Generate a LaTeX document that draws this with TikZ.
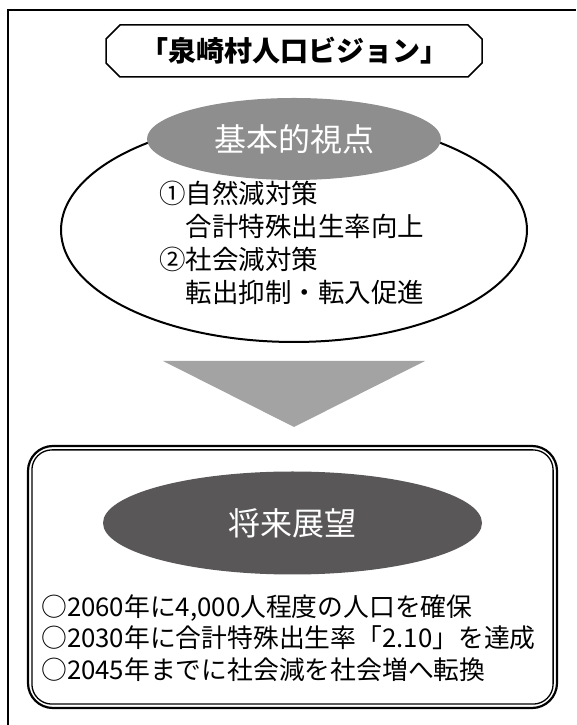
\documentclass[tikz,border=0pt]{standalone}
\usepackage{fontspec}
\newfontfamily\jp{Noto Sans CJK JP}
\usetikzlibrary{shapes.geometric,shapes.misc}
\definecolor{viewgray}{HTML}{8E8E8E}
\definecolor{arrowgray}{HTML}{A2A3A2}
\definecolor{outlookgray}{HTML}{595757}
\tikzset{
  oval/.style={ellipse, inner sep=0pt, text=white, font=\jp\fontsize{32}{32}\selectfont},
  body/.style={align=left, anchor=west, inner sep=0pt},
}

\begin{document}
\begin{tikzpicture}[x=1pt, y=1pt, font=\jp]
\useasboundingbox (0,0) rectangle (576,725);
\draw[line width=2] (8,0) |- (576,715);

% title
\node[chamfered rectangle, chamfered rectangle xsep=7pt, chamfered rectangle ysep=7pt, draw, line width=1.5, minimum width=376pt, minimum height=52pt, font=\jp\bfseries\fontsize{28}{28}\selectfont] (title) at (294,674) {「泉崎村人口ビジョン」};

% basic view
\node[ellipse, draw, line width=2, minimum width=466pt, minimum height=224pt] (view) at (294,495) {};
\node[oval, fill=viewgray, minimum width=294pt, minimum height=82pt] (basic) at (294,586) {基本的視点};
\node[body, font=\jp\fontsize{26.5}{33}\selectfont] (measures) at (159,482.5) {①自然減対策\\\hspace*{1em}合計特殊出生率向上\\②社会減対策\\\hspace*{1em}転出抑制・転入促進};

% arrow
\coordinate (tl) at (163,364);
\coordinate (tr) at (425,364);
\coordinate (tip) at (294,298);
\fill[arrowgray] (tl) -- (tr) -- (tip) -- cycle;

% future outlook
\node[draw, line width=2.2, rounded corners=25pt, minimum width=529pt, minimum height=262pt] (outlook) at (292.5,148) {};
\draw[line width=1.3, rounded corners=20pt] ([shift={(5,-5)}]outlook.north west) rectangle ([shift={(-5,5)}]outlook.south east);
\node[oval, fill=outlookgray, minimum width=379pt, minimum height=103pt] (future) at (292.5,202) {将来展望};
\node[body, font=\jp\fontsize{25.8}{31.5}\selectfont] (goals) at (41,87) {○2060年に4,000人程度の人口を確保\\○2030年に合計特殊出生率「2.10」を達成\\○2045年までに社会減を社会増へ転換};
\end{tikzpicture}
\end{document}
